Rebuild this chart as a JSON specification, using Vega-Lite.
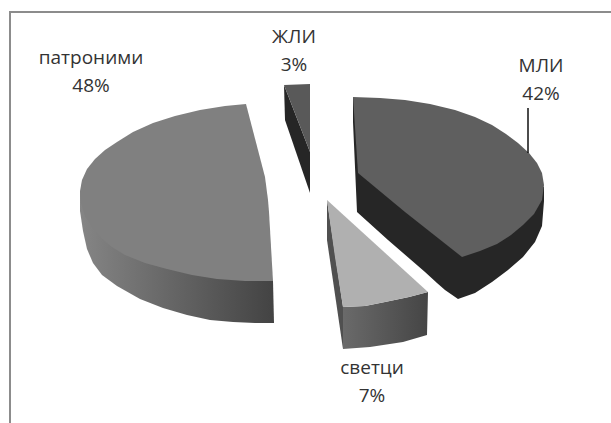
{
  "$schema": "https://vega.github.io/schema/vega-lite/v6.json",
  "width": 611,
  "height": 423,
  "padding": 0,
  "autosize": "none",
  "background": "white",
  "config": {"view": {"stroke": null}},
  "projection": {"type": "identity", "scale": 1, "translate": [305, 211]},
  "datasets": {
    "walls": [
      {"type": "Feature", "properties": {"slice": "патроними", "value": 48, "face": "wall"}, "geometry": {"type": "Polygon", "coordinates": [[[-225,-20],[-225,0],[-222,20],[-218,38],[-212,52],[-203,64],[-188,75],[-165,88],[-142,97],[-118,104],[-95,109],[-72,111],[-50,112],[-31,112],[-32,70],[-100,30],[-225,-20]]]}},
      {"type": "Feature", "properties": {"slice": "светци", "value": 7, "face": "wall"}, "geometry": {"type": "Polygon", "coordinates": [[[38,96],[60,95],[80,91],[104,86],[123,81],[122,124],[98,131],[65,136],[38,138],[38,96]]]}}
    ],
    "faces": [
      {"type": "Feature", "properties": {"slice": "МЛИ", "value": 42, "face": "МЛИ бок"}, "geometry": {"type": "Polygon", "coordinates": [[[48,-114],[48,-89],[52,1],[83,29],[120,61],[132,72],[140,79],[153,88],[170,82],[187,71],[203,59],[218,46],[230,31],[237,15],[239,-10],[239,-24],[100,-50],[48,-114]]]}},
      {"type": "Feature", "properties": {"slice": "МЛИ", "value": 42, "face": "МЛИ врх"}, "geometry": {"type": "Polygon", "coordinates": [[[48,-114],[75,-113],[100,-111],[125,-107],[150,-101],[170,-94],[187,-86],[201,-77],[213,-68],[224,-58],[232,-48],[237,-38],[239,-26],[237,-11],[229,3],[218,14],[206,24],[192,33],[175,40],[157,46],[100,1],[53,-38],[48,-114]]]}},
      {"type": "Feature", "properties": {"slice": "патроними", "value": 48, "face": "патроними врх"}, "geometry": {"type": "Polygon", "coordinates": [[[-59,-107],[-80,-105],[-105,-101],[-130,-95],[-152,-88],[-172,-79],[-188,-69],[-200,-61],[-210,-52],[-218,-42],[-223,-31],[-225,-20],[-224,-8],[-220,5],[-213,16],[-204,27],[-193,36],[-180,44],[-160,52],[-138,58],[-113,64],[-88,68],[-60,70],[-32,70],[-36,1],[-37,-11],[-40,-34],[-59,-107]]]}},
      {"type": "Feature", "properties": {"slice": "светци", "value": 7, "face": "светци бок"}, "geometry": {"type": "Polygon", "coordinates": [[[22,-11],[22,29],[38,138],[38,96],[22,-11]]]}},
      {"type": "Feature", "properties": {"slice": "светци", "value": 7, "face": "светци врх"}, "geometry": {"type": "Polygon", "coordinates": [[[22,-11],[123,81],[104,86],[80,91],[60,95],[38,96],[30,46],[22,-11]]]}},
      {"type": "Feature", "properties": {"slice": "ЖЛИ", "value": 3, "face": "ЖЛИ бок"}, "geometry": {"type": "Polygon", "coordinates": [[[-21,-126],[5,-59],[5,-18],[-20,-91],[-21,-126]]]}},
      {"type": "Feature", "properties": {"slice": "ЖЛИ", "value": 3, "face": "ЖЛИ врх"}, "geometry": {"type": "Polygon", "coordinates": [[[-21,-126],[5,-127],[5,-59],[-21,-126]]]}}
    ],
    "lines": [
      {"type": "Feature", "properties": {"kind": "frame"}, "geometry": {"type": "LineString", "coordinates": [[-295,220],[-295,-199],[310,-199]]}},
      {"type": "Feature", "properties": {"kind": "leader"}, "geometry": {"type": "LineString", "coordinates": [[223,-103],[223,-58]]}}
    ],
    "labels": [
      {"label": "патроними\n48%", "lon": -214, "lat": -153},
      {"label": "ЖЛИ\n3%", "lon": -11, "lat": -174},
      {"label": "МЛИ\n42%", "lon": 236, "lat": -145},
      {"label": "светци\n7%", "lon": 67, "lat": 157}
    ]
  },
  "layer": [
    {
      "data": {"name": "walls"},
      "transform": [{"filter": "datum.properties.slice === 'патроними'"}],
      "mark": {"type": "geoshape", "stroke": null, "fill": {"gradient": "linear", "x1": 0, "y1": 0, "x2": 1, "y2": 0, "stops": [{"offset": 0, "color": "#858585"}, {"offset": 1, "color": "#434343"}]}},
      "encoding": {}
    },
    {
      "data": {"name": "walls"},
      "transform": [{"filter": "datum.properties.slice === 'светци'"}],
      "mark": {"type": "geoshape", "stroke": null, "fill": {"gradient": "linear", "x1": 0, "y1": 0, "x2": 1, "y2": 0, "stops": [{"offset": 0, "color": "#6a6a6a"}, {"offset": 1, "color": "#454545"}]}},
      "encoding": {}
    },
    {
      "data": {"name": "faces"},
      "mark": {"type": "geoshape", "stroke": null},
      "encoding": {
        "fill": {
          "field": "properties.face",
          "type": "nominal",
          "legend": null,
          "scale": {
            "domain": ["МЛИ бок", "МЛИ врх", "патроними врх", "светци бок", "светци врх", "ЖЛИ бок", "ЖЛИ врх"],
            "range": ["#262626", "#5f5f5f", "#808080", "#505050", "#b0b0b0", "#262626", "#595959"]
          }
        }
      }
    },
    {
      "data": {"name": "lines"},
      "transform": [{"filter": "datum.properties.kind === 'frame'"}],
      "mark": {"type": "geoshape", "filled": false, "stroke": "#8c8c8c", "strokeWidth": 2},
      "encoding": {}
    },
    {
      "data": {"name": "lines"},
      "transform": [{"filter": "datum.properties.kind === 'leader'"}],
      "mark": {"type": "geoshape", "filled": false, "stroke": "#111111", "strokeWidth": 1.5},
      "encoding": {}
    },
    {
      "data": {"name": "labels"},
      "mark": {"type": "text", "font": "Open Sans", "fontSize": 19, "lineBreak": "\n", "lineHeight": 28, "align": "center", "baseline": "middle", "color": "#333333"},
      "encoding": {
        "longitude": {"field": "lon", "type": "quantitative"},
        "latitude": {"field": "lat", "type": "quantitative"},
        "text": {"field": "label", "type": "nominal"}
      }
    }
  ]
}
